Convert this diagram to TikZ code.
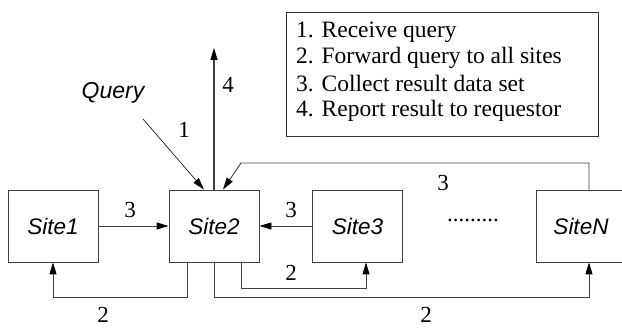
\documentclass[tikz,border=0pt]{standalone}
\usepackage{fontspec}
\setmainfont{Liberation Serif}
\newfontfamily\helv{Liberation Sans}
\usetikzlibrary{arrows.meta,calc}
\begin{document}
\begin{tikzpicture}[x=1pt,y=-1pt,
  site/.style={draw=black!75, line width=0.9pt, minimum width=90pt, minimum height=72pt, inner sep=0pt, font=\helv\itshape\fontsize{22.5}{24}\selectfont},
  lbl/.style={font=\fontsize{23}{26}\selectfont, inner sep=0pt},
  legtext/.style={font=\fontsize{23.5}{26}\selectfont, inner sep=0pt, anchor=west},
  tip/.style={-{Triangle[length=12pt,width=7pt,color=black]}},
  conn/.style={draw=black!75, line width=0.9pt, tip},
  thinconn/.style={draw=black, line width=0.6pt, tip}]
\useasboundingbox (0,0) rectangle (622,328);
% sites
\node[site] (s1) at (53,226) {Site1};
\node[site] (s2) at (214,226) {Site2};
\node[site] (s3) at (357.5,226) {Site3};
\node[site] (sN) at (581,226) {SiteN};
\node[lbl] (dots) at (473,220) {.........};
% legend
\node[draw=black!80, line width=0.9pt, minimum width=312pt, minimum height=124pt, inner sep=0pt] (leg) at (442,74) {};
\node[legtext] (l1) at (296,32) {1. Receive query};
\node[legtext] (l2) at (296,58) {2. Forward query to all sites};
\node[legtext] (l3) at (296,84) {3. Collect result data set};
\node[legtext] (l4) at (296,111) {4. Report result to requestor};
% query
\node[font=\helv\itshape\fontsize{23}{26}\selectfont, inner sep=0pt] (q) at (113,93) {Query};
\coordinate (qs) at (143,119);
\coordinate (top) at (214,48);
\coordinate (c3) at (241,163);
% connectors
\draw[thinconn] (qs) -- ($(s2.north)+(-10,0)$);
\draw[conn, line width=1.2pt] (s2.north) -- (top);
\draw[conn] (s1.east) -- (s2.west);
\draw[conn] (s3.west) -- (s2.east);
\draw[conn] ($(s2.south)+(-27,0)$) -- ++(0,35) -| (s1.south);
\draw[conn] (s2.south) -- ++(0,35) -| ($(sN.south)+(8,0)$);
\draw[conn] ($(s2.south)+(27,0)$) -- ++(0,26) -| ($(s3.south)+(8.5,0)$);
\draw[conn] ($(sN.north)+(8,0)$) |- (c3) -- ($(s2.north)+(9,0)$);
% labels
\node[lbl] (n1) at (184,130) {1};
\node[lbl] (n4) at (228,85) {4};
\node[lbl] (n3a) at (130,210) {3};
\node[lbl] (n3b) at (291,210) {3};
\node[lbl] (n3c) at (443,183) {3};
\node[lbl] (n2a) at (103,315) {2};
\node[lbl] (n2b) at (291,273) {2};
\node[lbl] (n2c) at (426,315) {2};
\end{tikzpicture}
\end{document}
